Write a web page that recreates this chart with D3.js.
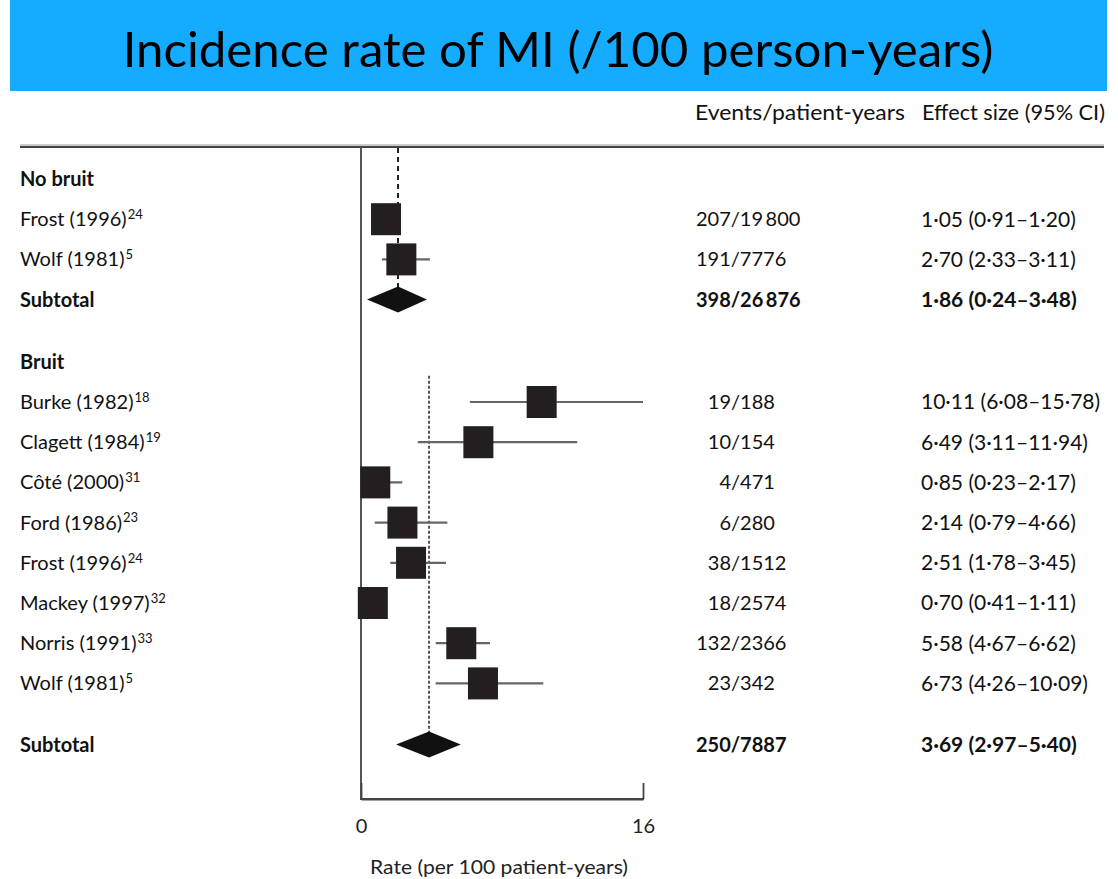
<!DOCTYPE html>
<html><head><meta charset="utf-8">
<script src="https://cdn.jsdelivr.net/npm/d3@7"></script>
<style>body{margin:0;background:#fff} svg{display:block}</style>
</head><body><svg id="c" width="1118" height="879"></svg>
<script>
// ---------- data ----------
const titleText = "Incidence rate of MI (/100 person-years)";
const colHeaders = ["Events/patient-years", "Effect size (95% CI)"];
const rowTypes  = ["group","study","study","subtotal","group","study","study","study","study","study","study","study","study","subtotal"];
const rowGroups = ["No bruit","No bruit","No bruit","No bruit","Bruit","Bruit","Bruit","Bruit","Bruit","Bruit","Bruit","Bruit","Bruit","Bruit"];
const rowLabels = ["No bruit","Frost (1996)","Wolf (1981)","Subtotal","Bruit","Burke (1982)","Clagett (1984)","Côté (2000)","Ford (1986)","Frost (1996)","Mackey (1997)","Norris (1991)","Wolf (1981)","Subtotal"];
const rowRefs   = ["","24","5","","","18","19","31","23","24","32","33","5",""];
const eventsTxt = ["","207/19\u2009800","191/7776","398/26\u2009876","","19/188","10/154","4/471","6/280","38/1512","18/2574","132/2366","23/342","250/7887"];
const effectTxt = ["","1·05 (0·91–1·20)","2·70 (2·33–3·11)","1·86 (0·24–3·48)","","10·11 (6·08–15·78)","6·49 (3·11–11·94)","0·85 (0·23–2·17)","2·14 (0·79–4·66)","2·51 (1·78–3·45)","0·70 (0·41–1·11)","5·58 (4·67–6·62)","6·73 (4·26–10·09)","3·69 (2·97–5·40)"];
// plotted positions (rate per 100 patient-years)
const est = [null,1.42,2.29,2.10,null,10.25,6.66,0.81,2.35,2.84,0.67,5.69,6.92,3.86];
const lo  = [null,1.30,1.19,0.34,null,6.18,3.22,0.40,0.78,1.66,0.45,4.24,4.24,1.99];
const hi  = [null,1.55,3.91,3.74,null,16.00,12.27,2.34,4.90,4.82,1.10,7.32,10.34,5.66];
const xTicks = [0, 16];
const xTitle = "Rate (per 100 patient-years)";

// ---------- layout ----------
const svg = d3.select("#c");
const FONT = "Lato, 'Open Sans', sans-serif";
const x = d3.scaleLinear().domain([0,16]).range([361,643]);

// row y positions
const rowY = [];
{ let y = 179, step = 40.2;
  rowLabels.forEach((l,i)=>{
    if (i>0) { y += step;
      if (rowTypes[i]==="group") y += 22;
      if (rowTypes[i]==="subtotal" && rowGroups[i]==="Bruit") y += 21; }
    rowY.push(y);
  });
}

// title banner
svg.append("rect").attr("x",10).attr("y",0).attr("width",1097).attr("height",91).attr("fill","#15abff");
const title = svg.append("text").attr("x",558).attr("y",50).attr("dy","0.35em")
  .attr("text-anchor","middle").attr("font-family",FONT).attr("font-size",48).attr("fill","#000").text(titleText);
{ const w = title.node().getComputedTextLength(); title.attr("font-size", 48*871/w); }

// column headers
svg.append("text").attr("x",695).attr("y",113).attr("dy","0.35em").attr("font-family",FONT)
  .attr("font-size",21).attr("fill","#111")
  .attr("textLength",210).attr("lengthAdjust","spacingAndGlyphs").text(colHeaders[0]);
svg.append("text").attr("x",922).attr("y",113).attr("dy","0.35em").attr("font-family",FONT)
  .attr("font-size",21).attr("fill","#111")
  .attr("textLength",183).attr("lengthAdjust","spacingAndGlyphs").text(colHeaders[1]);

// header rule
svg.append("line").attr("x1",20).attr("x2",1104).attr("y1",145).attr("y2",145)
  .attr("stroke","#bbb").attr("stroke-width",1.5);
svg.append("line").attr("x1",20).attr("x2",1104).attr("y1",147).attr("y2",147)
  .attr("stroke","#444").attr("stroke-width",2);

// vertical line at 0
svg.append("line").attr("x1",x(0)).attr("x2",x(0)).attr("y1",147).attr("y2",799)
  .attr("stroke","#555").attr("stroke-width",2);

// axis
const axis = d3.axisBottom(x).tickValues(xTicks).tickFormat(d=>d).tickSizeInner(-16).tickSizeOuter(0).tickPadding(20);
const ax = svg.append("g").attr("transform","translate(0,799)").call(axis);
ax.select(".domain").attr("stroke","#444").attr("stroke-width",2);
ax.selectAll(".tick line").attr("stroke","#444").attr("stroke-width",1.8);
ax.selectAll(".tick text").attr("font-family",FONT).attr("font-size",20).attr("fill","#222");
svg.append("rect").attr("x",x(0)-1).attr("y",798).attr("width",x(16)-x(0)+2).attr("height",2).attr("fill","#444");
svg.append("text").attr("x",499).attr("y",867).attr("dy","0.35em").attr("text-anchor","middle")
  .attr("font-family",FONT).attr("font-size",19).attr("fill","#222")
  .attr("textLength",258).attr("lengthAdjust","spacingAndGlyphs").text(xTitle);

// dashed reference lines at subtotal estimates
const subIdx = rowTypes.map((t,i)=>t==="subtotal"?i:-1).filter(i=>i>=0);
subIdx.forEach(i=>{
  const g = rowGroups[i];
  const first = rowGroups.indexOf(g);
  const top = g==="No bruit" ? 148 : rowY[first]+14;
  svg.append("line").attr("x1",x(est[i])).attr("x2",x(est[i])).attr("y1",top).attr("y2",rowY[i]-12)
    .attr("stroke", g==="No bruit" ? "#222" : "#555").attr("stroke-width",2)
    .attr("stroke-dasharray", g==="No bruit" ? "5,4" : "3,2");
});

// whiskers + squares
const rows = rowLabels.map((l,i)=>({i,l}));
const studiesRows = rows.filter(r=>rowTypes[r.i]==="study");
svg.append("g").selectAll("line").data(studiesRows).join("line")
  .attr("x1",r=>x(lo[r.i])).attr("x2",r=>x(hi[r.i])).attr("y1",r=>rowY[r.i]).attr("y2",r=>rowY[r.i])
  .attr("stroke","#666").attr("stroke-width",2.2);
const SW = 30, SH = 32;
svg.append("g").selectAll("rect").data(studiesRows).join("rect")
  .attr("x",r=>x(est[r.i])-SW/2).attr("y",r=>rowY[r.i]-SH/2).attr("width",SW).attr("height",SH)
  .attr("fill","#231f20");

// diamonds
svg.append("g").selectAll("path").data(subIdx).join("path")
  .attr("d",i=>{ const y=rowY[i], h=13; return `M${x(lo[i])},${y}L${x(est[i])},${y-h}L${x(hi[i])},${y}L${x(est[i])},${y+h}Z`; })
  .attr("fill","#111");

// left labels
const lab = svg.append("g").selectAll("text").data(rows).join("text")
  .attr("x",20).attr("y",r=>rowY[r.i]).attr("dy","0.35em").attr("font-family",FONT)
  .attr("font-size",20).attr("fill","#111")
  .attr("font-weight",r=>rowTypes[r.i]==="study"?400:700);
lab.append("tspan").text(r=>r.l);
lab.filter(r=>rowRefs[r.i]).append("tspan").attr("font-size",13).attr("dy","-0.55em").attr("dx",1).text(r=>rowRefs[r.i]);

// events column
const slashX = 731;
rows.filter(r=>eventsTxt[r.i]).forEach(r=>{
  const bold = rowTypes[r.i]==="subtotal";
  const t = eventsTxt[r.i];
  if (rowGroups[r.i]==="Bruit" && !bold) {
    const k = t.indexOf("/");
    svg.append("text").attr("x",slashX).attr("y",rowY[r.i]).attr("dy","0.35em").attr("text-anchor","end")
      .attr("font-family",FONT).attr("font-size",20).attr("fill","#111").text(t.slice(0,k));
    svg.append("text").attr("x",slashX).attr("y",rowY[r.i]).attr("dy","0.35em").attr("text-anchor","start")
      .attr("font-family",FONT).attr("font-size",20).attr("fill","#111").text(t.slice(k));
  } else {
    svg.append("text").attr("x",696).attr("y",rowY[r.i]).attr("dy","0.35em")
      .attr("font-family",FONT).attr("font-size",20).attr("fill","#111")
      .attr("font-weight",bold?700:400).text(t);
  }
});

// effect column
svg.append("g").selectAll("text").data(rows.filter(r=>effectTxt[r.i])).join("text")
  .attr("x",921).attr("y",r=>rowY[r.i]).attr("dy","0.35em").attr("font-family",FONT)
  .attr("font-size",21).attr("fill","#111")
  .attr("font-weight",r=>rowTypes[r.i]==="subtotal"?700:400).text(r=>effectTxt[r.i]);
</script></body></html>
